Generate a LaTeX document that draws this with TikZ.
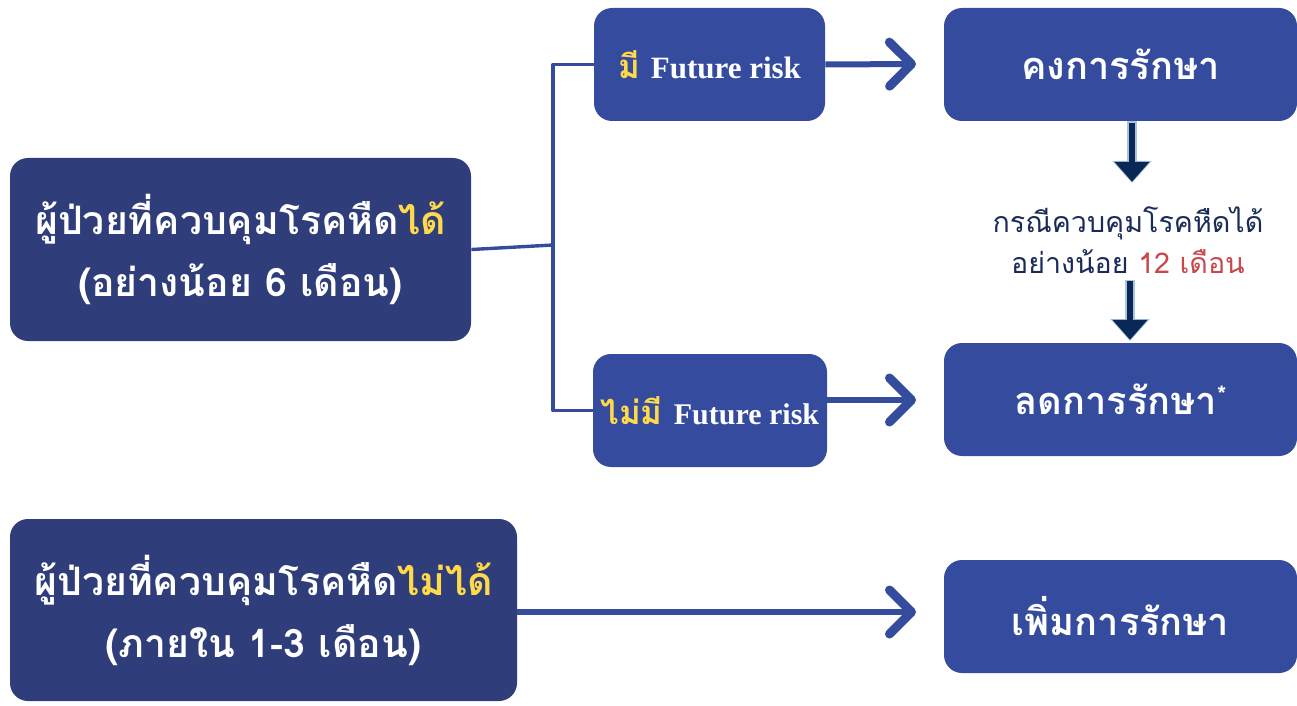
\documentclass[tikz,border=0pt]{standalone}
\usepackage{fontspec}
\usetikzlibrary{arrows.meta}
\newfontfamily\thai[Script=Thai]{Loma}
\newfontfamily\latserif{Liberation Serif}
\definecolor{boxdark}{RGB}{47,62,122}
\definecolor{boxblue}{RGB}{53,75,158}
\definecolor{ylw}{RGB}{255,217,74}
\definecolor{navytext}{RGB}{26,43,88}
\definecolor{redtext}{RGB}{201,72,76}
\definecolor{arrnavy}{RGB}{10,40,86}
\definecolor{arrline}{RGB}{169,196,224}
\begin{document}
\begin{tikzpicture}[x=0.5pt,y=-0.5pt,
  darkbox/.style={fill=boxdark, rounded corners=9pt, text=white, align=center, inner sep=0pt,
    font=\thai\bfseries\fontsize{19.6}{31}\selectfont},
  bluebox/.style={fill=boxblue, rounded corners=9pt, text=white, align=center, inner sep=0pt,
    minimum width=176.5pt, minimum height=56.5pt, font=\thai\bfseries\fontsize{19}{22}\selectfont},
  riskbox/.style={fill=boxblue, rounded corners=9pt, text=white, align=center, inner sep=0pt,
    minimum height=56.5pt, font=\thai\bfseries\fontsize{16.5}{20}\selectfont},
  conn/.style={draw=boxblue, line width=1.7pt, line join=round},
  chev/.style={draw=boxblue, line width=3pt, -{Straight Barb[length=11pt,width=22pt,line width=4.5pt,round]}},
  downout/.style={draw=arrline, line width=4.6pt, -{Triangle[length=11pt,width=19pt]}},
  downin/.style={draw=arrnavy, line width=3.4pt, -{Triangle[length=10pt,width=17pt]}},
  midtext/.style={align=center, text=navytext, inner sep=0pt, font=\thai\fontsize{14.3}{20.5}\selectfont}
]
\useasboundingbox (0,0) rectangle (1297,706);

\node[darkbox, minimum width=230.5pt, minimum height=91.5pt] (A) at (240.5,249.5)
  {ผู้ป่วยที่ควบคุมโรคหืด\textcolor{ylw}{ได้}\\(อย่างน้อย 6 เดือน)};
\node[darkbox, minimum width=253.5pt, minimum height=91pt] (B) at (263.5,610)
  {ผู้ป่วยที่ควบคุมโรคหืด\textcolor{ylw}{ไม่ได้}\\(ภายใน 1-3 เดือน)};

\node[riskbox, minimum width=115.5pt] (C) at (709.5,64.5)
  {\textcolor{ylw}{มี} {\latserif\bfseries\fontsize{15.5}{20}\selectfont Future risk}};
\node[riskbox, minimum width=117pt] (D) at (710,410.5)
  {\textcolor{ylw}{ไม่มี} {\latserif\bfseries\fontsize{15}{20}\selectfont Future risk}};

\node[bluebox] (E) at (1120.5,64.5) {คงการรักษา};
\node[bluebox] (F) at (1120.5,399.5) {ลดการรักษา\raisebox{0.3em}{\fontsize{12}{12}\selectfont*}};
\node[bluebox] (G) at (1120.5,616.5) {เพิ่มการรักษา};

\node[midtext] (N) at (1128,240) {กรณีควบคุมโรคหืดได้\\อย่างน้อย \textcolor{redtext}{12 เดือน}};

\coordinate (J) at (553,245);
\draw[conn] (A.east) -- (J);
\draw[conn] (C.west) -| (J) |- (D.west);

\coordinate (CE) at (916,64);
\coordinate (DE) at (916,400);
\coordinate (BE) at (916,612);
\draw[chev] (C.east) -- (CE);
\draw[chev] (D.east |- DE) -- (DE);
\draw[chev] (B.east |- BE) -- (BE);

\coordinate (M1) at (1132,183);
\coordinate (M2) at (1130,280);
\coordinate (M3) at (1130,341);
\draw[downout] (E.south -| M1) -- (M1);
\draw[downin] ([yshift=-0.6pt]E.south -| M1) -- ([yshift=0.6pt]M1);
\draw[downout] (M2) -- (M3);
\draw[downin] ([yshift=-0.6pt]M2) -- ([yshift=0.6pt]M3);
\end{tikzpicture}
\end{document}
